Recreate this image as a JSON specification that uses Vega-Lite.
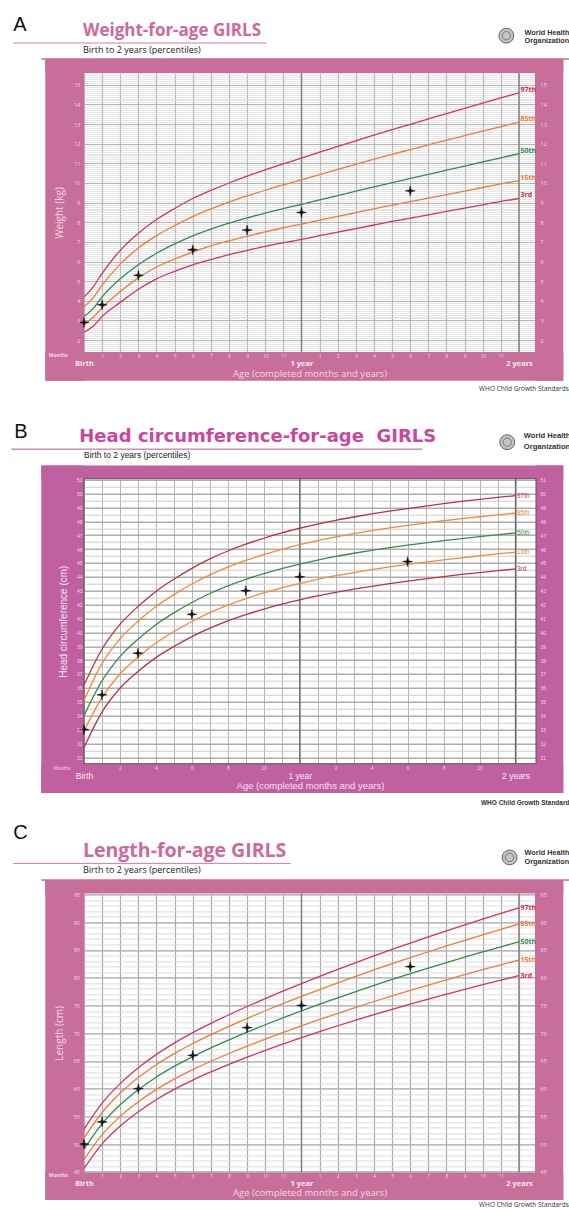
{
"$schema": "https://vega.github.io/schema/vega-lite/v6.json",
"background": "white",
"padding": {"left": 10, "top": 14, "right": 0, "bottom": 0},
"autosize": {"type": "pad"},
"spacing": 16.7,
"resolve": {"scale": {"color": "independent", "stroke": "independent", "fill": "independent"}},
"config": {"view": {"stroke": null}},
"datasets": {
"wA": [
{"m":0,"p":"3rd","v":2.4},{"m":0,"p":"15th","v":2.8},{"m":0,"p":"50th","v":3.2},{"m":0,"p":"85th","v":3.7},{"m":0,"p":"97th","v":4.2},
{"m":0.5,"p":"3rd","v":2.7},{"m":0.5,"p":"15th","v":3.15},{"m":0.5,"p":"50th","v":3.6},{"m":0.5,"p":"85th","v":4.15},{"m":0.5,"p":"97th","v":4.7},
{"m":1,"p":"3rd","v":3.2},{"m":1,"p":"15th","v":3.65},{"m":1,"p":"50th","v":4.2},{"m":1,"p":"85th","v":4.8},{"m":1,"p":"97th","v":5.4},
{"m":2,"p":"3rd","v":3.92},{"m":2,"p":"15th","v":4.47},{"m":2,"p":"50th","v":5.12},{"m":2,"p":"85th","v":5.87},{"m":2,"p":"97th","v":6.57},
{"m":3,"p":"3rd","v":4.59},{"m":3,"p":"15th","v":5.17},{"m":3,"p":"50th","v":5.84},{"m":3,"p":"85th","v":6.69},{"m":3,"p":"97th","v":7.44},
{"m":4,"p":"3rd","v":5.12},{"m":4,"p":"15th","v":5.72},{"m":4,"p":"50th","v":6.42},{"m":4,"p":"85th","v":7.32},{"m":4,"p":"97th","v":8.14},
{"m":5,"p":"3rd","v":5.5},{"m":5,"p":"15th","v":6.13},{"m":5,"p":"50th","v":6.9},{"m":5,"p":"85th","v":7.83},{"m":5,"p":"97th","v":8.7},
{"m":6,"p":"3rd","v":5.83},{"m":6,"p":"15th","v":6.48},{"m":6,"p":"50th","v":7.31},{"m":6,"p":"85th","v":8.29},{"m":6,"p":"97th","v":9.21},
{"m":7,"p":"3rd","v":6.1},{"m":7,"p":"15th","v":6.8},{"m":7,"p":"50th","v":7.65},{"m":7,"p":"85th","v":8.68},{"m":7,"p":"97th","v":9.62},
{"m":8,"p":"3rd","v":6.35},{"m":8,"p":"15th","v":7.05},{"m":8,"p":"50th","v":7.95},{"m":8,"p":"85th","v":9.03},{"m":8,"p":"97th","v":10.0},
{"m":9,"p":"3rd","v":6.57},{"m":9,"p":"15th","v":7.29},{"m":9,"p":"50th","v":8.22},{"m":9,"p":"85th","v":9.34},{"m":9,"p":"97th","v":10.35},
{"m":10,"p":"3rd","v":6.77},{"m":10,"p":"15th","v":7.51},{"m":10,"p":"50th","v":8.47},{"m":10,"p":"85th","v":9.63},{"m":10,"p":"97th","v":10.67},
{"m":11,"p":"3rd","v":6.96},{"m":11,"p":"15th","v":7.72},{"m":11,"p":"50th","v":8.7},{"m":11,"p":"85th","v":9.9},{"m":11,"p":"97th","v":10.97},
{"m":12,"p":"3rd","v":7.13},{"m":12,"p":"15th","v":7.91},{"m":12,"p":"50th","v":8.91},{"m":12,"p":"85th","v":10.16},{"m":12,"p":"97th","v":11.26},
{"m":13,"p":"3rd","v":7.32},{"m":13,"p":"15th","v":8.11},{"m":13,"p":"50th","v":9.14},{"m":13,"p":"85th","v":10.43},{"m":13,"p":"97th","v":11.57},
{"m":14,"p":"3rd","v":7.5},{"m":14,"p":"15th","v":8.3},{"m":14,"p":"50th","v":9.36},{"m":14,"p":"85th","v":10.69},{"m":14,"p":"97th","v":11.86},
{"m":15,"p":"3rd","v":7.68},{"m":15,"p":"15th","v":8.49},{"m":15,"p":"50th","v":9.58},{"m":15,"p":"85th","v":10.95},{"m":15,"p":"97th","v":12.15},
{"m":16,"p":"3rd","v":7.86},{"m":16,"p":"15th","v":8.68},{"m":16,"p":"50th","v":9.8},{"m":16,"p":"85th","v":11.21},{"m":16,"p":"97th","v":12.44},
{"m":17,"p":"3rd","v":8.04},{"m":17,"p":"15th","v":8.87},{"m":17,"p":"50th","v":10.02},{"m":17,"p":"85th","v":11.46},{"m":17,"p":"97th","v":12.72},
{"m":18,"p":"3rd","v":8.21},{"m":18,"p":"15th","v":9.05},{"m":18,"p":"50th","v":10.23},{"m":18,"p":"85th","v":11.7},{"m":18,"p":"97th","v":12.99},
{"m":19,"p":"3rd","v":8.38},{"m":19,"p":"15th","v":9.23},{"m":19,"p":"50th","v":10.44},{"m":19,"p":"85th","v":11.94},{"m":19,"p":"97th","v":13.26},
{"m":20,"p":"3rd","v":8.55},{"m":20,"p":"15th","v":9.41},{"m":20,"p":"50th","v":10.65},{"m":20,"p":"85th","v":12.18},{"m":20,"p":"97th","v":13.53},
{"m":21,"p":"3rd","v":8.72},{"m":21,"p":"15th","v":9.59},{"m":21,"p":"50th","v":10.86},{"m":21,"p":"85th","v":12.41},{"m":21,"p":"97th","v":13.8},
{"m":22,"p":"3rd","v":8.89},{"m":22,"p":"15th","v":9.77},{"m":22,"p":"50th","v":11.07},{"m":22,"p":"85th","v":12.64},{"m":22,"p":"97th","v":14.07},
{"m":23,"p":"3rd","v":9.06},{"m":23,"p":"15th","v":9.95},{"m":23,"p":"50th","v":11.28},{"m":23,"p":"85th","v":12.87},{"m":23,"p":"97th","v":14.33},
{"m":24,"p":"3rd","v":9.21},{"m":24,"p":"15th","v":10.12},{"m":24,"p":"50th","v":11.49},{"m":24,"p":"85th","v":13.1},{"m":24,"p":"97th","v":14.59}
],
"ptA": [{"m":0,"v":2.9},{"m":1,"v":3.8},{"m":3,"v":5.3},{"m":6,"v":6.6},{"m":9,"v":7.6},{"m":12,"v":8.5},{"m":18,"v":9.6}],
"hB": [
{"m":0,"p":"3rd","v":31.7},{"m":0,"p":"15th","v":32.9},{"m":0,"p":"50th","v":34.0},{"m":0,"p":"85th","v":35.1},{"m":0,"p":"97th","v":36.2},
{"m":1,"p":"3rd","v":34.25},{"m":1,"p":"15th","v":35.3},{"m":1,"p":"50th","v":36.5},{"m":1,"p":"85th","v":37.75},{"m":1,"p":"97th","v":38.78},
{"m":2,"p":"3rd","v":35.97},{"m":2,"p":"15th","v":37.0},{"m":2,"p":"50th","v":38.25},{"m":2,"p":"85th","v":39.53},{"m":2,"p":"97th","v":40.57},
{"m":3,"p":"3rd","v":37.18},{"m":3,"p":"15th","v":38.2},{"m":3,"p":"50th","v":39.5},{"m":3,"p":"85th","v":40.8},{"m":3,"p":"97th","v":41.86},
{"m":4,"p":"3rd","v":38.18},{"m":4,"p":"15th","v":39.23},{"m":4,"p":"50th","v":40.55},{"m":4,"p":"85th","v":41.86},{"m":4,"p":"97th","v":42.95},
{"m":5,"p":"3rd","v":38.98},{"m":5,"p":"15th","v":40.05},{"m":5,"p":"50th","v":41.4},{"m":5,"p":"85th","v":42.72},{"m":5,"p":"97th","v":43.83},
{"m":6,"p":"3rd","v":39.69},{"m":6,"p":"15th","v":40.78},{"m":6,"p":"50th","v":42.15},{"m":6,"p":"85th","v":43.48},{"m":6,"p":"97th","v":44.61},
{"m":7,"p":"3rd","v":40.3},{"m":7,"p":"15th","v":41.42},{"m":7,"p":"50th","v":42.8},{"m":7,"p":"85th","v":44.14},{"m":7,"p":"97th","v":45.29},
{"m":8,"p":"3rd","v":40.83},{"m":8,"p":"15th","v":41.96},{"m":8,"p":"50th","v":43.35},{"m":8,"p":"85th","v":44.7},{"m":8,"p":"97th","v":45.86},
{"m":9,"p":"3rd","v":41.28},{"m":9,"p":"15th","v":42.43},{"m":9,"p":"50th","v":43.82},{"m":9,"p":"85th","v":45.18},{"m":9,"p":"97th","v":46.35},
{"m":10,"p":"3rd","v":41.67},{"m":10,"p":"15th","v":42.84},{"m":10,"p":"50th","v":44.23},{"m":10,"p":"85th","v":45.6},{"m":10,"p":"97th","v":46.78},
{"m":11,"p":"3rd","v":42.03},{"m":11,"p":"15th","v":43.21},{"m":11,"p":"50th","v":44.6},{"m":11,"p":"85th","v":45.98},{"m":11,"p":"97th","v":47.17},
{"m":12,"p":"3rd","v":42.34},{"m":12,"p":"15th","v":43.52},{"m":12,"p":"50th","v":44.92},{"m":12,"p":"85th","v":46.32},{"m":12,"p":"97th","v":47.5},
{"m":13,"p":"3rd","v":42.62},{"m":13,"p":"15th","v":43.82},{"m":13,"p":"50th","v":45.21},{"m":13,"p":"85th","v":46.61},{"m":13,"p":"97th","v":47.8},
{"m":14,"p":"3rd","v":42.88},{"m":14,"p":"15th","v":44.08},{"m":14,"p":"50th","v":45.47},{"m":14,"p":"85th","v":46.88},{"m":14,"p":"97th","v":48.07},
{"m":15,"p":"3rd","v":43.11},{"m":15,"p":"15th","v":44.31},{"m":15,"p":"50th","v":45.7},{"m":15,"p":"85th","v":47.11},{"m":15,"p":"97th","v":48.31},
{"m":16,"p":"3rd","v":43.32},{"m":16,"p":"15th","v":44.52},{"m":16,"p":"50th","v":45.91},{"m":16,"p":"85th","v":47.33},{"m":16,"p":"97th","v":48.53},
{"m":17,"p":"3rd","v":43.51},{"m":17,"p":"15th","v":44.71},{"m":17,"p":"50th","v":46.1},{"m":17,"p":"85th","v":47.52},{"m":17,"p":"97th","v":48.73},
{"m":18,"p":"3rd","v":43.69},{"m":18,"p":"15th","v":44.89},{"m":18,"p":"50th","v":46.28},{"m":18,"p":"85th","v":47.7},{"m":18,"p":"97th","v":48.92},
{"m":19,"p":"3rd","v":43.86},{"m":19,"p":"15th","v":45.06},{"m":19,"p":"50th","v":46.45},{"m":19,"p":"85th","v":47.87},{"m":19,"p":"97th","v":49.1},
{"m":20,"p":"3rd","v":44.02},{"m":20,"p":"15th","v":45.22},{"m":20,"p":"50th","v":46.61},{"m":20,"p":"85th","v":48.04},{"m":20,"p":"97th","v":49.27},
{"m":21,"p":"3rd","v":44.17},{"m":21,"p":"15th","v":45.37},{"m":21,"p":"50th","v":46.76},{"m":21,"p":"85th","v":48.19},{"m":21,"p":"97th","v":49.43},
{"m":22,"p":"3rd","v":44.31},{"m":22,"p":"15th","v":45.51},{"m":22,"p":"50th","v":46.9},{"m":22,"p":"85th","v":48.33},{"m":22,"p":"97th","v":49.58},
{"m":23,"p":"3rd","v":44.44},{"m":23,"p":"15th","v":45.65},{"m":23,"p":"50th","v":47.03},{"m":23,"p":"85th","v":48.46},{"m":23,"p":"97th","v":49.72},
{"m":24,"p":"3rd","v":44.57},{"m":24,"p":"15th","v":45.78},{"m":24,"p":"50th","v":47.16},{"m":24,"p":"85th","v":48.6},{"m":24,"p":"97th","v":49.85}
],
"ptB": [{"m":0,"v":33.0},{"m":1,"v":35.5},{"m":3,"v":38.5},{"m":6,"v":41.3},{"m":9,"v":43.0},{"m":12,"v":44.0},{"m":18,"v":45.1}],
"lC": [
{"m":0,"p":"3rd","v":45.6},{"m":0,"p":"15th","v":47.2},{"m":0,"p":"50th","v":49.1},{"m":0,"p":"85th","v":51.1},{"m":0,"p":"97th","v":52.7},
{"m":1,"p":"3rd","v":50.05},{"m":1,"p":"15th","v":51.7},{"m":1,"p":"50th","v":53.7},{"m":1,"p":"85th","v":55.7},{"m":1,"p":"97th","v":57.4},
{"m":2,"p":"3rd","v":53.25},{"m":2,"p":"15th","v":55.0},{"m":2,"p":"50th","v":57.1},{"m":2,"p":"85th","v":59.2},{"m":2,"p":"97th","v":60.9},
{"m":3,"p":"3rd","v":55.82},{"m":3,"p":"15th","v":57.62},{"m":3,"p":"50th","v":59.8},{"m":3,"p":"85th","v":62.0},{"m":3,"p":"97th","v":63.75},
{"m":4,"p":"3rd","v":58.04},{"m":4,"p":"15th","v":59.86},{"m":4,"p":"50th","v":62.1},{"m":4,"p":"85th","v":64.35},{"m":4,"p":"97th","v":66.18},
{"m":5,"p":"3rd","v":59.92},{"m":5,"p":"15th","v":61.75},{"m":5,"p":"50th","v":64.05},{"m":5,"p":"85th","v":66.35},{"m":5,"p":"97th","v":68.25},
{"m":6,"p":"3rd","v":61.55},{"m":6,"p":"15th","v":63.42},{"m":6,"p":"50th","v":65.77},{"m":6,"p":"85th","v":68.14},{"m":6,"p":"97th","v":70.09},
{"m":7,"p":"3rd","v":63.02},{"m":7,"p":"15th","v":64.94},{"m":7,"p":"50th","v":67.34},{"m":7,"p":"85th","v":69.74},{"m":7,"p":"97th","v":71.76},
{"m":8,"p":"3rd","v":64.38},{"m":8,"p":"15th","v":66.34},{"m":8,"p":"50th","v":68.8},{"m":8,"p":"85th","v":71.24},{"m":8,"p":"97th","v":73.32},
{"m":9,"p":"3rd","v":65.67},{"m":9,"p":"15th","v":67.67},{"m":9,"p":"50th","v":70.19},{"m":9,"p":"85th","v":72.67},{"m":9,"p":"97th","v":74.81},
{"m":10,"p":"3rd","v":66.9},{"m":10,"p":"15th","v":68.94},{"m":10,"p":"50th","v":71.52},{"m":10,"p":"85th","v":74.04},{"m":10,"p":"97th","v":76.24},
{"m":11,"p":"3rd","v":68.08},{"m":11,"p":"15th","v":70.16},{"m":11,"p":"50th","v":72.8},{"m":11,"p":"85th","v":75.36},{"m":11,"p":"97th","v":77.62},
{"m":12,"p":"3rd","v":69.21},{"m":12,"p":"15th","v":71.33},{"m":12,"p":"50th","v":74.03},{"m":12,"p":"85th","v":76.63},{"m":12,"p":"97th","v":78.95},
{"m":13,"p":"3rd","v":70.29},{"m":13,"p":"15th","v":72.47},{"m":13,"p":"50th","v":75.22},{"m":13,"p":"85th","v":77.87},{"m":13,"p":"97th","v":80.24},
{"m":14,"p":"3rd","v":71.34},{"m":14,"p":"15th","v":73.58},{"m":14,"p":"50th","v":76.38},{"m":14,"p":"85th","v":79.08},{"m":14,"p":"97th","v":81.5},
{"m":15,"p":"3rd","v":72.36},{"m":15,"p":"15th","v":74.66},{"m":15,"p":"50th","v":77.51},{"m":15,"p":"85th","v":80.26},{"m":15,"p":"97th","v":82.73},
{"m":16,"p":"3rd","v":73.35},{"m":16,"p":"15th","v":75.71},{"m":16,"p":"50th","v":78.61},{"m":16,"p":"85th","v":81.41},{"m":16,"p":"97th","v":83.93},
{"m":17,"p":"3rd","v":74.31},{"m":17,"p":"15th","v":76.73},{"m":17,"p":"50th","v":79.68},{"m":17,"p":"85th","v":82.53},{"m":17,"p":"97th","v":85.1},
{"m":18,"p":"3rd","v":75.24},{"m":18,"p":"15th","v":77.72},{"m":18,"p":"50th","v":80.72},{"m":18,"p":"85th","v":83.62},{"m":18,"p":"97th","v":86.24},
{"m":19,"p":"3rd","v":76.14},{"m":19,"p":"15th","v":78.68},{"m":19,"p":"50th","v":81.73},{"m":19,"p":"85th","v":84.68},{"m":19,"p":"97th","v":87.35},
{"m":20,"p":"3rd","v":77.02},{"m":20,"p":"15th","v":79.62},{"m":20,"p":"50th","v":82.72},{"m":20,"p":"85th","v":85.72},{"m":20,"p":"97th","v":88.44},
{"m":21,"p":"3rd","v":77.89},{"m":21,"p":"15th","v":80.54},{"m":21,"p":"50th","v":83.69},{"m":21,"p":"85th","v":86.74},{"m":21,"p":"97th","v":89.51},
{"m":22,"p":"3rd","v":78.74},{"m":22,"p":"15th","v":81.44},{"m":22,"p":"50th","v":84.64},{"m":22,"p":"85th","v":87.74},{"m":22,"p":"97th","v":90.56},
{"m":23,"p":"3rd","v":79.57},{"m":23,"p":"15th","v":82.32},{"m":23,"p":"50th","v":85.57},{"m":23,"p":"85th","v":88.72},{"m":23,"p":"97th","v":91.59},
{"m":24,"p":"3rd","v":80.38},{"m":24,"p":"15th","v":83.18},{"m":24,"p":"50th","v":86.48},{"m":24,"p":"85th","v":89.68},{"m":24,"p":"97th","v":92.58}
],
"ptC": [{"m":0,"v":50},{"m":1,"v":54},{"m":3,"v":60},{"m":6,"v":66},{"m":9,"v":71},{"m":12,"v":75},{"m":18,"v":82}],
"years": [{"yr":12},{"yr":24}]
},
"vconcat": [
{
"width": 451, "height": 279,
"view": {"fill": "#ffffff", "stroke": null},
"resolve": {"axis": {"x": "independent", "y": "independent"}},
"layer": [
{"data": {"values": [{}]}, "mark": {"type": "rect", "color": "#c86e9b"},
 "encoding": {
  "x": {"datum": -2.135, "type": "quantitative", "scale": {"domain": [0, 24.883], "nice": false, "zero": false},
   "axis": {"orient": "bottom", "values": [1,2,3,4,5,6,7,8,9,10,11,13,14,15,16,17,18,19,20,21,22,23], "labelExpr": "'' + (datum.value > 12 ? datum.value - 12 : datum.value)", "grid": false, "ticks": false, "domain": false, "labelFont": "Open Sans", "labelFontSize": 5, "labelColor": "#f6d6e5", "labelPadding": 1, "labelFlush": false, "labelOverlap": false, "title": null, "zindex": 1}},
  "x2": {"datum": 0},
  "y": {"datum": -0.067, "type": "quantitative", "scale": {"domain": [1.394, 15.6], "nice": false, "zero": false},
   "axis": {"orient": "left", "values": [2,3,4,5,6,7,8,9,10,11,12,13,14,15], "grid": false, "ticks": false, "domain": false, "labelFont": "Open Sans", "labelFontSize": 5.5, "labelColor": "#f6d6e5", "labelPadding": 4, "labelOverlap": false, "title": "Weight (kg)", "titleFont": "Open Sans", "titleFontSize": 10, "titleFontWeight": "normal", "titleColor": "#f6d6e5", "titlePadding": 9, "zindex": 1}},
  "y2": {"datum": 16.313}}},
{"data": {"values": [{}]}, "mark": {"type": "rect", "color": "#c86e9b"},
 "encoding": {
  "x": {"datum": 24.883, "type": "quantitative",
   "axis": {"orient": "bottom", "values": [0,12,24], "labelExpr": "datum.value == 0 ? 'Birth' : datum.value == 12 ? '1 year' : '2 years'", "grid": false, "ticks": false, "domain": false, "labelFont": "Open Sans", "labelFontSize": 7.5, "labelFontWeight": "bold", "labelColor": "#f9e6ef", "labelPadding": 7, "labelFlush": false, "labelOverlap": false, "title": "Age (completed months and years)", "titleFont": "Open Sans", "titleFontSize": 9.5, "titleFontWeight": "normal", "titleColor": "#f6d6e5", "titlePadding": 2, "zindex": 1}},
  "x2": {"datum": 26.444},
  "y": {"datum": -0.067, "type": "quantitative",
   "axis": {"orient": "right", "values": [2,3,4,5,6,7,8,9,10,11,12,13,14,15], "grid": false, "ticks": false, "domain": false, "labelFont": "Open Sans", "labelFontSize": 5.5, "labelColor": "#f6d6e5", "labelPadding": 5, "labelOverlap": false, "title": null, "zindex": 1}},
  "y2": {"datum": 16.313}}},
{"data": {"values": [{}]}, "mark": {"type": "rect", "color": "#c86e9b"},
 "encoding": {
  "x": {"datum": -2.135, "type": "quantitative",
   "axis": {"orient": "bottom", "values": [0,1,2,3,4,5,6,7,8,9,10,11,12,13,14,15,16,17,18,19,20,21,22,23,24], "grid": true, "gridColor": "#a9a9a9", "gridWidth": 1.2, "labels": false, "ticks": false, "domain": false, "title": null}},
  "x2": {"datum": 26.444},
  "y": {"datum": 15.6, "type": "quantitative",
   "axis": {"orient": "left", "tickCount": 140, "grid": true, "gridColor": "#dedede", "gridWidth": 0.8, "labels": false, "ticks": false, "domain": false, "title": null}},
  "y2": {"datum": 16.313}}},
{"data": {"values": [{}]}, "mark": {"type": "rect", "color": "#c86e9b"},
 "encoding": {
  "x": {"datum": -2.135, "type": "quantitative", "axis": null},
  "x2": {"datum": 26.444},
  "y": {"datum": -0.067, "type": "quantitative",
   "axis": {"orient": "left", "values": [2,3,4,5,6,7,8,9,10,11,12,13,14,15], "grid": true, "gridColor": "#b3b3b3", "gridWidth": 1, "labels": false, "ticks": false, "domain": false, "title": null}},
  "y2": {"datum": 1.394}}},
{"data": {"name": "years"}, "mark": {"type": "rule", "color": "#808080", "strokeWidth": 1.4},
 "encoding": {"x": {"field": "yr", "type": "quantitative", "axis": null}, "y": {"datum": 1.394, "axis": null}, "y2": {"datum": 15.6}}},
{"data": {"name": "wA"}, "mark": {"type": "line", "interpolate": "monotone", "strokeWidth": 1.3},
 "encoding": {
  "x": {"field": "m", "type": "quantitative", "axis": null},
  "y": {"field": "v", "type": "quantitative", "axis": null},
  "stroke": {"field": "p", "type": "nominal", "scale": {"domain": ["97th","85th","50th","15th","3rd"], "range": ["#d4335f","#f07a3c","#2f8c55","#f07a3c","#d4335f"]}, "legend": null}}},
{"data": {"name": "wA"}, "transform": [{"filter": "datum.m == 24"}],
 "mark": {"type": "text", "align": "left", "baseline": "middle", "dx": 1.5, "dy": -3, "font": "Open Sans", "fontSize": 7, "fontWeight": "bold"},
 "encoding": {
  "x": {"field": "m", "type": "quantitative", "axis": null},
  "y": {"field": "v", "type": "quantitative", "axis": null},
  "text": {"field": "p"},
  "fill": {"field": "p", "type": "nominal", "scale": {"domain": ["97th","85th","50th","15th","3rd"], "range": ["#e0283a","#f07a30","#2f8c4a","#f07a30","#e0283a"]}, "legend": null}}},
{"data": {"name": "ptA"}, "mark": {"type": "point", "shape": "M-1,0L-0.18,-0.18L0,-1L0.18,-0.18L1,0L0.18,0.18L0,1L-0.18,0.18Z", "filled": true, "color": "#111111", "stroke": "#111111", "strokeWidth": 0.5, "size": 100, "opacity": 1},
 "encoding": {
  "x": {"field": "m", "type": "quantitative", "axis": null},
  "y": {"field": "v", "type": "quantitative", "axis": null}}},
{"data": {"values": [{}]}, "mark": {"type": "text", "text": "A", "align": "left", "baseline": "alphabetic", "font": "Liberation Sans", "fontSize": 20, "color": "#111111"},
 "encoding": {"x": {"datum": -3.9, "axis": null}, "y": {"datum": 17.754, "axis": null}}},
{"data": {"values": [{}]}, "mark": {"type": "text", "text": "Weight-for-age GIRLS", "align": "left", "baseline": "alphabetic", "font": "Open Sans", "fontSize": 17, "fontWeight": "bold", "color": "#cc6a9b"},
 "encoding": {"x": {"datum": -0.055, "axis": null}, "y": {"datum": 17.469, "axis": null}}},
{"data": {"values": [{}]}, "mark": {"type": "rule", "color": "#d67aa6", "strokeWidth": 1},
 "encoding": {"x": {"datum": -3.9, "axis": null}, "x2": {"datum": 10.06}, "y": {"datum": 17.127, "axis": null}}},
{"data": {"values": [{}]}, "mark": {"type": "text", "text": "Birth to 2 years (percentiles)", "align": "left", "baseline": "alphabetic", "font": "Open Sans", "fontSize": 9, "color": "#222222"},
 "encoding": {"x": {"datum": -0.055, "axis": null}, "y": {"datum": 16.618, "axis": null}}},
{"data": {"values": [{}]}, "mark": {"type": "rule", "color": "#c86e9b", "strokeWidth": 1.5},
 "encoding": {"x": {"datum": -2.356, "axis": null}, "x2": {"datum": 26.83}, "y": {"datum": 16.313, "axis": null}}},
{"data": {"values": [{}]}, "mark": {"type": "point", "shape": "circle", "filled": true, "size": 220, "fill": "#c4c4c4", "stroke": "#555555", "strokeWidth": 0.9, "opacity": 1},
 "encoding": {"x": {"datum": 23.3, "axis": null}, "y": {"datum": 17.499, "axis": null}}},
{"data": {"values": [{}]}, "mark": {"type": "point", "shape": "circle", "filled": false, "size": 70, "stroke": "#666666", "strokeWidth": 0.8, "opacity": 1},
 "encoding": {"x": {"datum": 23.3, "axis": null}, "y": {"datum": 17.499, "axis": null}}},
{"data": {"values": [{}]}, "mark": {"type": "text", "text": "World Health", "align": "left", "baseline": "middle", "font": "Liberation Sans", "fontSize": 7.3, "fontWeight": "bold", "color": "#333333"},
 "encoding": {"x": {"datum": 24.309, "axis": null}, "y": {"datum": 17.616, "axis": null}}},
{"data": {"values": [{}]}, "mark": {"type": "text", "text": "Organization", "align": "left", "baseline": "middle", "font": "Liberation Sans", "fontSize": 7.3, "fontWeight": "bold", "color": "#333333"},
 "encoding": {"x": {"datum": 24.309, "axis": null}, "y": {"datum": 17.209, "axis": null}}},
{"data": {"values": [{}]}, "mark": {"type": "text", "text": "WHO Child Growth Standards", "align": "right", "baseline": "middle", "font": "Open Sans", "fontSize": 6.5, "color": "#333333"},
 "encoding": {"x": {"datum": 26.748, "axis": null}, "y": {"datum": -0.49, "axis": null}}},
{"data": {"values": [{}]}, "mark": {"type": "text", "text": "Months", "align": "center", "baseline": "middle", "font": "Open Sans", "fontSize": 5, "fontWeight": "bold", "color": "#f6d6e5"},
 "encoding": {"x": {"datum": -1.418, "axis": null}, "y": {"datum": 1.257, "axis": null}}},
{"data": {"values": [{}]}, "mark": {"type": "point", "filled": true, "size": 1, "opacity": 0},
 "encoding": {"x": {"datum": 20, "axis": null}, "y": {"datum": -1.24, "axis": null}}}
]
},
{
"width": 452, "height": 285,
"view": {"fill": "#ffffff", "stroke": null},
"resolve": {"axis": {"x": "independent", "y": "independent"}},
"layer": [
{"data": {"values": [{}]}, "mark": {"type": "rect", "color": "#c060a0"},
 "encoding": {
  "x": {"datum": -2.375, "type": "quantitative", "scale": {"domain": [0, 25.14], "nice": false, "zero": false},
   "axis": {"orient": "bottom", "values": [2,4,6,8,10,14,16,18,20,22], "labelExpr": "'' + (datum.value > 12 ? datum.value - 12 : datum.value)", "grid": false, "ticks": false, "domain": false, "labelFont": "Liberation Sans", "labelFontSize": 5, "labelColor": "#f1d4ea", "labelPadding": 1.5, "labelFlush": false, "labelOverlap": false, "title": null, "zindex": 1}},
  "x2": {"datum": 0},
  "y": {"datum": 28.426, "type": "quantitative", "scale": {"domain": [30.537, 51.07], "nice": false, "zero": false},
   "axis": {"orient": "left", "values": [31,32,33,34,35,36,37,38,39,40,41,42,43,44,45,46,47,48,49,50,51], "grid": false, "ticks": false, "domain": false, "labelFont": "Liberation Sans", "labelFontSize": 5, "labelColor": "#f1d4ea", "labelPadding": 2, "labelOverlap": false, "title": "Head circumference (cm)", "titleFont": "Liberation Sans", "titleFontSize": 10, "titleFontWeight": "normal", "titleColor": "#f5e1ef", "titlePadding": 8, "zindex": 1}},
  "y2": {"datum": 52.021}}},
{"data": {"values": [{}]}, "mark": {"type": "rect", "color": "#c060a0"},
 "encoding": {
  "x": {"datum": 25.14, "type": "quantitative",
   "axis": {"orient": "bottom", "values": [0,12,24], "labelExpr": "datum.value == 0 ? 'Birth' : datum.value == 12 ? '1 year' : '2 years'", "grid": false, "ticks": false, "domain": false, "labelFont": "Liberation Sans", "labelFontSize": 8.5, "labelColor": "#f7e8f2", "labelPadding": 7.5, "labelFlush": false, "labelOverlap": false, "title": "Age (completed months and years)", "titleFont": "Liberation Sans", "titleFontSize": 9.5, "titleFontWeight": "normal", "titleColor": "#f5e1ef", "titlePadding": 1, "zindex": 1}},
  "x2": {"datum": 26.658},
  "y": {"datum": 28.426, "type": "quantitative",
   "axis": {"orient": "right", "values": [31,32,33,34,35,36,37,38,39,40,41,42,43,44,45,46,47,48,49,50,51], "grid": false, "ticks": false, "domain": false, "labelFont": "Liberation Sans", "labelFontSize": 5, "labelColor": "#f1d4ea", "labelPadding": 4, "labelOverlap": false, "title": null, "zindex": 1}},
  "y2": {"datum": 52.021}}},
{"data": {"values": [{}]}, "mark": {"type": "rect", "color": "#c060a0"},
 "encoding": {
  "x": {"datum": -2.375, "type": "quantitative",
   "axis": {"orient": "bottom", "values": [0,1,2,3,4,5,6,7,8,9,10,11,12,13,14,15,16,17,18,19,20,21,22,23,24], "grid": true, "gridColor": "#b5b5b5", "gridWidth": 1, "labels": false, "ticks": false, "domain": false, "title": null}},
  "x2": {"datum": 26.658},
  "y": {"datum": 51.07, "type": "quantitative",
   "axis": {"orient": "left", "tickCount": 41, "grid": true, "gridColor": "#cccccc", "gridWidth": 1, "labels": false, "ticks": false, "domain": false, "title": null}},
  "y2": {"datum": 52.021}}},
{"data": {"values": [{}]}, "mark": {"type": "rect", "color": "#c060a0"},
 "encoding": {
  "x": {"datum": -2.375, "type": "quantitative", "axis": null},
  "x2": {"datum": 26.658},
  "y": {"datum": 28.426, "type": "quantitative",
   "axis": {"orient": "left", "values": [31,32,33,34,35,36,37,38,39,40,41,42,43,44,45,46,47,48,49,50,51], "grid": true, "gridColor": "#9c9c9c", "gridWidth": 1, "labels": false, "ticks": false, "domain": false, "title": null}},
  "y2": {"datum": 30.537}}},
{"data": {"name": "years"}, "mark": {"type": "rule", "color": "#666666", "strokeWidth": 1.2},
 "encoding": {"x": {"field": "yr", "type": "quantitative", "axis": null}, "y": {"datum": 30.537, "axis": null}, "y2": {"datum": 51.07}}},
{"data": {"values": [{}]}, "mark": {"type": "rect", "filled": false, "stroke": "#555555", "strokeWidth": 1},
 "encoding": {"x": {"datum": 0, "axis": null}, "x2": {"datum": 25.14}, "y": {"datum": 30.537, "axis": null}, "y2": {"datum": 51.07}}},
{"data": {"name": "hB"}, "mark": {"type": "line", "interpolate": "monotone", "strokeWidth": 1.3},
 "encoding": {
  "x": {"field": "m", "type": "quantitative", "axis": null},
  "y": {"field": "v", "type": "quantitative", "axis": null},
  "stroke": {"field": "p", "type": "nominal", "scale": {"domain": ["97th","85th","50th","15th","3rd"], "range": ["#b8343f","#f5883a","#3b8a4e","#f5883a","#b8343f"]}, "legend": null}}},
{"data": {"name": "hB"}, "transform": [{"filter": "datum.m == 24"}],
 "mark": {"type": "text", "align": "left", "baseline": "middle", "dx": 1.5, "dy": 0, "font": "Liberation Sans", "fontSize": 6.5},
 "encoding": {
  "x": {"field": "m", "type": "quantitative", "axis": null},
  "y": {"field": "v", "type": "quantitative", "axis": null},
  "text": {"field": "p"},
  "fill": {"field": "p", "type": "nominal", "scale": {"domain": ["97th","85th","50th","15th","3rd"], "range": ["#c8303a","#f08030","#3a8a4a","#f08030","#c8303a"]}, "legend": null}}},
{"data": {"name": "ptB"}, "mark": {"type": "point", "shape": "M-1,0L-0.18,-0.18L0,-1L0.18,-0.18L1,0L0.18,0.18L0,1L-0.18,0.18Z", "filled": true, "color": "#111111", "stroke": "#111111", "strokeWidth": 0.5, "size": 100, "opacity": 1},
 "encoding": {
  "x": {"field": "m", "type": "quantitative", "axis": null},
  "y": {"field": "v", "type": "quantitative", "axis": null}}},
{"data": {"values": [{}]}, "mark": {"type": "text", "text": "B", "align": "left", "baseline": "alphabetic", "font": "Liberation Sans", "fontSize": 20, "color": "#111111"},
 "encoding": {"x": {"datum": -3.877, "axis": null}, "y": {"datum": 54.0, "axis": null}}},
{"data": {"values": [{}]}, "mark": {"type": "text", "text": "Head circumference-for-age\u00a0 GIRLS", "align": "left", "baseline": "alphabetic", "font": "DejaVu Sans", "fontSize": 18, "fontWeight": "bold", "color": "#cc469c"},
 "encoding": {"x": {"datum": -0.261, "axis": null}, "y": {"datum": 53.75, "axis": null}}},
{"data": {"values": [{}]}, "mark": {"type": "rule", "color": "#c84a9c", "strokeWidth": 1},
 "encoding": {"x": {"datum": -4.043, "axis": null}, "x2": {"datum": 18.815}, "y": {"datum": 53.2, "axis": null}}},
{"data": {"values": [{}]}, "mark": {"type": "text", "text": "Birth to 2 years (percentiles)", "align": "left", "baseline": "alphabetic", "font": "Liberation Sans", "fontSize": 8.5, "color": "#222222"},
 "encoding": {"x": {"datum": 0, "axis": null}, "y": {"datum": 52.56, "axis": null}}},
{"data": {"values": [{}]}, "mark": {"type": "point", "shape": "circle", "filled": true, "size": 220, "fill": "#c4c4c4", "stroke": "#555555", "strokeWidth": 0.9, "opacity": 1},
 "encoding": {"x": {"datum": 23.54, "axis": null}, "y": {"datum": 53.7, "axis": null}}},
{"data": {"values": [{}]}, "mark": {"type": "point", "shape": "circle", "filled": false, "size": 70, "stroke": "#666666", "strokeWidth": 0.8, "opacity": 1},
 "encoding": {"x": {"datum": 23.54, "axis": null}, "y": {"datum": 53.7, "axis": null}}},
{"data": {"values": [{}]}, "mark": {"type": "text", "text": "World Health", "align": "left", "baseline": "middle", "font": "Liberation Sans", "fontSize": 7.6, "fontWeight": "bold", "color": "#333333"},
 "encoding": {"x": {"datum": 24.46, "axis": null}, "y": {"datum": 54.18, "axis": null}}},
{"data": {"values": [{}]}, "mark": {"type": "text", "text": "Organization", "align": "left", "baseline": "middle", "font": "Liberation Sans", "fontSize": 7.6, "fontWeight": "bold", "color": "#333333"},
 "encoding": {"x": {"datum": 24.46, "axis": null}, "y": {"datum": 53.34, "axis": null}}},
{"data": {"values": [{}]}, "mark": {"type": "text", "text": "WHO Child Growth Standard", "align": "right", "baseline": "middle", "font": "Liberation Sans", "fontSize": 6.5, "fontWeight": "bold", "color": "#333333"},
 "encoding": {"x": {"datum": 27.0, "axis": null}, "y": {"datum": 27.706, "axis": null}}},
{"data": {"values": [{}]}, "mark": {"type": "text", "text": "Months", "align": "center", "baseline": "middle", "font": "Liberation Sans", "fontSize": 5, "color": "#f1d4ea"},
 "encoding": {"x": {"datum": -1.224, "axis": null}, "y": {"datum": 30.248, "axis": null}}}
]
},
{
"width": 451, "height": 279,
"view": {"fill": "#ffffff", "stroke": null},
"resolve": {"axis": {"x": "independent", "y": "independent"}},
"layer": [
{"data": {"values": [{}]}, "mark": {"type": "rect", "color": "#c86e9b"},
 "encoding": {
  "x": {"datum": -2.135, "type": "quantitative", "scale": {"domain": [0, 24.883], "nice": false, "zero": false},
   "axis": {"orient": "bottom", "values": [1,2,3,4,5,6,7,8,9,10,11,13,14,15,16,17,18,19,20,21,22,23], "labelExpr": "'' + (datum.value > 12 ? datum.value - 12 : datum.value)", "grid": false, "ticks": false, "domain": false, "labelFont": "Open Sans", "labelFontSize": 5, "labelColor": "#f6d6e5", "labelPadding": 1, "labelFlush": false, "labelOverlap": false, "title": null, "zindex": 1}},
  "x2": {"datum": 0},
  "y": {"datum": 39.91, "type": "quantitative", "scale": {"domain": [44.9, 95.2], "nice": false, "zero": false},
   "axis": {"orient": "left", "values": [45,50,55,60,65,70,75,80,85,90,95], "grid": false, "ticks": false, "domain": false, "labelFont": "Open Sans", "labelFontSize": 5.5, "labelColor": "#f6d6e5", "labelPadding": 4.5, "labelOverlap": false, "title": "Length (cm)", "titleFont": "Open Sans", "titleFontSize": 10, "titleFontWeight": "normal", "titleColor": "#f6d6e5", "titlePadding": 9, "zindex": 1}},
  "y2": {"datum": 97.598}}},
{"data": {"values": [{}]}, "mark": {"type": "rect", "color": "#c86e9b"},
 "encoding": {
  "x": {"datum": 24.883, "type": "quantitative",
   "axis": {"orient": "bottom", "values": [0,12,24], "labelExpr": "datum.value == 0 ? 'Birth' : datum.value == 12 ? '1 year' : '2 years'", "grid": false, "ticks": false, "domain": false, "labelFont": "Open Sans", "labelFontSize": 7.5, "labelFontWeight": "bold", "labelColor": "#f9e6ef", "labelPadding": 7, "labelFlush": false, "labelOverlap": false, "title": "Age (completed months and years)", "titleFont": "Open Sans", "titleFontSize": 9.5, "titleFontWeight": "normal", "titleColor": "#f6d6e5", "titlePadding": 1, "zindex": 1}},
  "x2": {"datum": 26.444},
  "y": {"datum": 39.91, "type": "quantitative",
   "axis": {"orient": "right", "values": [45,50,55,60,65,70,75,80,85,90,95], "grid": false, "ticks": false, "domain": false, "labelFont": "Open Sans", "labelFontSize": 5.5, "labelColor": "#f6d6e5", "labelPadding": 5, "labelOverlap": false, "title": null, "zindex": 1}},
  "y2": {"datum": 97.598}}},
{"data": {"values": [{}]}, "mark": {"type": "rect", "color": "#c86e9b"},
 "encoding": {
  "x": {"datum": -2.135, "type": "quantitative",
   "axis": {"orient": "bottom", "values": [0,1,2,3,4,5,6,7,8,9,10,11,12,13,14,15,16,17,18,19,20,21,22,23,24], "grid": true, "gridColor": "#a9a9a9", "gridWidth": 1.2, "labels": false, "ticks": false, "domain": false, "title": null}},
  "x2": {"datum": 26.444},
  "y": {"datum": 95.2, "type": "quantitative",
   "axis": {"orient": "left", "tickCount": 50, "grid": true, "gridColor": "#d9d9d9", "gridWidth": 0.9, "labels": false, "ticks": false, "domain": false, "title": null}},
  "y2": {"datum": 97.598}}},
{"data": {"values": [{}]}, "mark": {"type": "rect", "color": "#c86e9b"},
 "encoding": {
  "x": {"datum": -2.135, "type": "quantitative", "axis": null},
  "x2": {"datum": 26.444},
  "y": {"datum": 39.91, "type": "quantitative",
   "axis": {"orient": "left", "values": [45,50,55,60,65,70,75,80,85,90,95], "grid": true, "gridColor": "#adadad", "gridWidth": 1.1, "labels": false, "ticks": false, "domain": false, "title": null}},
  "y2": {"datum": 44.9}}},
{"data": {"name": "years"}, "mark": {"type": "rule", "color": "#808080", "strokeWidth": 1.4},
 "encoding": {"x": {"field": "yr", "type": "quantitative", "axis": null}, "y": {"datum": 44.9, "axis": null}, "y2": {"datum": 95.2}}},
{"data": {"name": "lC"}, "mark": {"type": "line", "interpolate": "monotone", "strokeWidth": 1.3},
 "encoding": {
  "x": {"field": "m", "type": "quantitative", "axis": null},
  "y": {"field": "v", "type": "quantitative", "axis": null},
  "stroke": {"field": "p", "type": "nominal", "scale": {"domain": ["97th","85th","50th","15th","3rd"], "range": ["#d4335f","#f07a3c","#2f8c55","#f07a3c","#d4335f"]}, "legend": null}}},
{"data": {"name": "lC"}, "transform": [{"filter": "datum.m == 24"}],
 "mark": {"type": "text", "align": "left", "baseline": "middle", "dx": 1.5, "dy": 0, "font": "Open Sans", "fontSize": 7, "fontWeight": "bold"},
 "encoding": {
  "x": {"field": "m", "type": "quantitative", "axis": null},
  "y": {"field": "v", "type": "quantitative", "axis": null},
  "text": {"field": "p"},
  "fill": {"field": "p", "type": "nominal", "scale": {"domain": ["97th","85th","50th","15th","3rd"], "range": ["#e0283a","#f07a30","#2f8c4a","#f07a30","#e0283a"]}, "legend": null}}},
{"data": {"name": "ptC"}, "mark": {"type": "point", "shape": "M-1,0L-0.18,-0.18L0,-1L0.18,-0.18L1,0L0.18,0.18L0,1L-0.18,0.18Z", "filled": true, "color": "#111111", "stroke": "#111111", "strokeWidth": 0.5, "size": 100, "opacity": 1},
 "encoding": {
  "x": {"field": "m", "type": "quantitative", "axis": null},
  "y": {"field": "v", "type": "quantitative", "axis": null}}},
{"data": {"values": [{}]}, "mark": {"type": "text", "text": "C", "align": "left", "baseline": "alphabetic", "font": "Liberation Sans", "fontSize": 20, "color": "#111111"},
 "encoding": {"x": {"datum": -3.9, "axis": null}, "y": {"datum": 104.935, "axis": null}}},
{"data": {"values": [{}]}, "mark": {"type": "text", "text": "Length-for-age GIRLS", "align": "left", "baseline": "alphabetic", "font": "Open Sans", "fontSize": 19.5, "fontWeight": "bold", "color": "#cc6a9b"},
 "encoding": {"x": {"datum": -0.055, "axis": null}, "y": {"datum": 101.816, "axis": null}}},
{"data": {"values": [{}]}, "mark": {"type": "rule", "color": "#d67aa6", "strokeWidth": 1},
 "encoding": {"x": {"datum": -3.9, "axis": null}, "x2": {"datum": 11.4}, "y": {"datum": 100.608, "axis": null}}},
{"data": {"values": [{}]}, "mark": {"type": "text", "text": "Birth to 2 years (percentiles)", "align": "left", "baseline": "alphabetic", "font": "Open Sans", "fontSize": 9, "color": "#222222"},
 "encoding": {"x": {"datum": -0.055, "axis": null}, "y": {"datum": 98.806, "axis": null}}},
{"data": {"values": [{}]}, "mark": {"type": "rule", "color": "#c86e9b", "strokeWidth": 1.5},
 "encoding": {"x": {"datum": -2.356, "axis": null}, "x2": {"datum": 26.83}, "y": {"datum": 97.598, "axis": null}}},
{"data": {"values": [{}]}, "mark": {"type": "point", "shape": "circle", "filled": true, "size": 220, "fill": "#c4c4c4", "stroke": "#555555", "strokeWidth": 0.9, "opacity": 1},
 "encoding": {"x": {"datum": 23.48, "axis": null}, "y": {"datum": 101.69, "axis": null}}},
{"data": {"values": [{}]}, "mark": {"type": "point", "shape": "circle", "filled": false, "size": 70, "stroke": "#666666", "strokeWidth": 0.8, "opacity": 1},
 "encoding": {"x": {"datum": 23.48, "axis": null}, "y": {"datum": 101.69, "axis": null}}},
{"data": {"values": [{}]}, "mark": {"type": "text", "text": "World Health", "align": "left", "baseline": "middle", "font": "Liberation Sans", "fontSize": 7.3, "fontWeight": "bold", "color": "#333333"},
 "encoding": {"x": {"datum": 24.309, "axis": null}, "y": {"datum": 102.411, "axis": null}}},
{"data": {"values": [{}]}, "mark": {"type": "text", "text": "Organization", "align": "left", "baseline": "middle", "font": "Liberation Sans", "fontSize": 7.3, "fontWeight": "bold", "color": "#333333"},
 "encoding": {"x": {"datum": 24.309, "axis": null}, "y": {"datum": 100.915, "axis": null}}},
{"data": {"values": [{}]}, "mark": {"type": "text", "text": "WHO Child Growth Standards", "align": "right", "baseline": "middle", "font": "Open Sans", "fontSize": 6.5, "color": "#333333"},
 "encoding": {"x": {"datum": 26.748, "axis": null}, "y": {"datum": 38.95, "axis": null}}},
{"data": {"values": [{}]}, "mark": {"type": "text", "text": "Months", "align": "center", "baseline": "middle", "font": "Open Sans", "fontSize": 5, "fontWeight": "bold", "color": "#f6d6e5"},
 "encoding": {"x": {"datum": -1.418, "axis": null}, "y": {"datum": 44.36, "axis": null}}}
]
}
]
}
